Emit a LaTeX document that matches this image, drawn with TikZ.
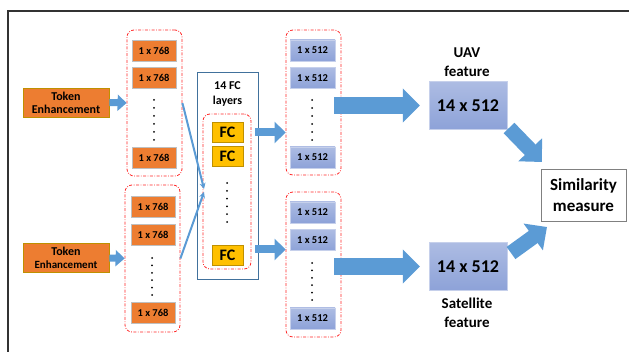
\documentclass[tikz,border=0pt]{standalone}
\usepackage{fontspec}
\setmainfont{Carlito}
\usepackage{tikz}
\usetikzlibrary{arrows.meta}
\definecolor{TokOrange}{HTML}{ED7D31}
\definecolor{TokEdge}{HTML}{BF9000}
\definecolor{FcYellow}{HTML}{FFC000}
\definecolor{ArrBlue}{HTML}{5B9BD5}
\definecolor{VecTop}{HTML}{ADBCE3}
\definecolor{VecBot}{HTML}{8DA2D8}
\definecolor{BoxEdge}{HTML}{41719C}

\begin{document}
\begin{tikzpicture}[x=1pt,y=-1pt,
  tok/.style={draw=TokEdge, fill=TokOrange, line width=0.8pt, minimum width=86pt, minimum height=29pt, inner sep=0pt, align=center, font=\bfseries\fontsize{12}{13}\selectfont},
  v768/.style={draw=gray!50, fill=TokOrange, minimum width=44pt, minimum height=21pt, inner sep=0pt, font=\bfseries\fontsize{10.5}{11}\selectfont},
  v512/.style={draw=VecTop!70, top color=VecTop, bottom color=VecBot, minimum width=45pt, minimum height=21pt, inner sep=0pt, font=\bfseries\fontsize{10.5}{11}\selectfont},
  fc/.style={draw=TokEdge, fill=FcYellow, minimum width=31pt, minimum height=20pt, inner sep=0pt, font=\bfseries\fontsize{16}{16}\selectfont},
  grp/.style={draw=red!85, dash pattern=on 3pt off 1.5pt on 0.8pt off 1.5pt, rounded corners=7pt, line width=0.8pt, inner sep=0pt},
  feat/.style={draw=VecTop!70, top color=VecTop, bottom color=VecBot, minimum width=78pt, minimum height=48pt, inner sep=0pt, font=\bfseries\fontsize{18}{18}\selectfont},
  lbl/.style={align=center, font=\bfseries\fontsize{15}{19}\selectfont},
  feed/.style={ArrBlue, line width=2pt, -{Stealth[length=6pt,width=6pt]}},
  arrS/.style={ArrBlue, line width=7pt, -{Triangle[length=9pt,width=16pt]}},
  arrM/.style={ArrBlue, line width=8pt, -{Triangle[length=11pt,width=21pt]}},
  arrL/.style={ArrBlue, line width=17pt, -{Triangle[length=17pt,width=33pt]}},
  arrD/.style={ArrBlue, line width=15pt, -{Triangle[length=17pt,width=32pt]}}]
\useasboundingbox (0,0) rectangle (629,352);
\draw[line width=1.2pt, black!80] (8,352) -- (8,11) -- (629,11);
%
\node[tok] (tokA) at (66,102.5) {Token\\Enhancement};
\node[tok] (tokB) at (66,258) {Token\\{\fontsize{11}{12}\selectfont Enhancement}};
%
\node[grp, minimum width=55pt, minimum height=146pt] (grpA) at (154.5,103) {};
\node[grp, minimum width=55pt, minimum height=147pt] (grpB) at (152.5,258.5) {};
\node[v768] (a1) at (154,50.5) {1 x 768};
\node[v768] (a2) at (154,78) {1 x 768};
\node[v768] (a3) at (154,157.5) {1 x 768};
\node[v768] (b1) at (153,207) {1 x 768};
\node[v768] (b2) at (153,234.5) {1 x 768};
\node[v768] (b3) at (153,313) {1 x 768};
\foreach \k in {0,...,5} {
  \fill (154,{100+8*\k}) circle (1pt);
  \fill (152,{258+7.4*\k}) circle (1pt);
}
%
\node[draw=BoxEdge, line width=0.7pt, minimum width=61pt, minimum height=207pt] (fcbox) at (227.5,175.5) {};
\node[align=center, font=\bfseries\fontsize{12}{15}\selectfont] (fclbl) at (227.5,94) {14 FC\\layers};
\node[grp, minimum width=48pt, minimum height=155pt] (fcgrp) at (227,191.5) {};
\node[fc] (fc1) at (227.5,132) {FC};
\node[fc] (fc2) at (227.5,156) {FC};
\node[fc] (fc3) at (227.5,255) {FC};
\foreach \k in {0,...,5}
  \fill (227,{183+7.8*\k}) circle (1pt);
%
\node[grp, minimum width=55pt, minimum height=145pt] (grpC) at (313.5,102.5) {};
\node[grp, minimum width=55pt, minimum height=145pt] (grpD) at (313.5,264.5) {};
\node[v512] (c1) at (312.5,50.5) {1 x 512};
\node[v512] (c2) at (312.5,78) {1 x 512};
\node[v512] (c3) at (312.5,157.5) {1 x 512};
\node[v512] (d1) at (312.5,212.5) {1 x 512};
\node[v512] (d2) at (312.5,240) {1 x 512};
\node[v512] (d3) at (312.5,318.5) {1 x 512};
\foreach \k in {0,...,5} {
  \fill (312,{100+8*\k}) circle (1pt);
  \fill (312,{263+7.4*\k}) circle (1pt);
}
%
\node[feat] (uav) at (468,105.5) {14 x 512};
\node[feat] (sat) at (468,266.5) {14 x 512};
\node[lbl] (uavlbl) at (467,62) {UAV\\feature};
\node[lbl] (satlbl) at (467,313) {Satellite\\feature};
\node[draw=gray, line width=0.8pt, minimum width=85pt, minimum height=52pt, align=center, font=\bfseries\fontsize{17}{21}\selectfont] (sim) at (583.5,195) {Similarity\\measure};
%
\coordinate (in1) at (204,189);
\coordinate (in2) at (204,192);
\coordinate (fcoutA) at (255,132.5);
\coordinate (fcoutB) at (255,249.5);
\coordinate (dA) at (509,128);
\coordinate (dAt) at (542,162);
\coordinate (dB) at (511,253);
\coordinate (dBt) at (547,227);
%
\draw[arrS] (tokA.east) -- (grpA.west);
\draw[arrS] (tokB.east) -- (grpB.west);
\draw[feed] (grpA.east) -- (in1);
\draw[feed] (grpB.east) -- (in2);
\draw[arrM] (fcoutA) -- (fcoutA -| grpC.west);
\draw[arrM] (fcoutB) -- (fcoutB -| grpD.west);
\draw[arrL, shorten <=-7pt, shorten >=9pt] (grpC.east |- uav.west) -- (uav.west);
\draw[arrL, shorten <=-7pt, shorten >=9pt] (grpD.east |- sat.west) -- (sat.west);
\draw[arrD] (dA) -- (dAt);
\draw[arrD] (dB) -- (dBt);
\end{tikzpicture}
\end{document}
